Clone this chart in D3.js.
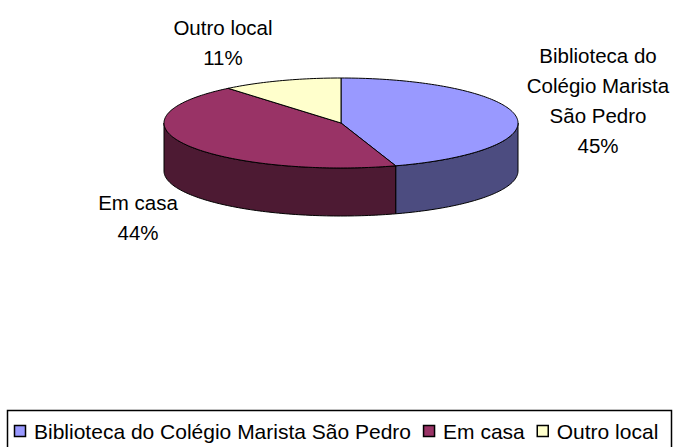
<!DOCTYPE html>
<html>
<head>
<meta charset="utf-8">
<script src="https://cdn.jsdelivr.net/npm/d3@7"></script>
<style>
  body { margin: 0; background: #fff; }
  text { font-family: Arial, "Liberation Sans", sans-serif; fill: #000; }
</style>
</head>
<body>
<div id="chart"></div>
<script>
// data
const categories = ["Biblioteca do Colégio Marista São Pedro", "Em casa", "Outro local"];
const values = [45, 44, 11];
const labelLines = [["Biblioteca do", "Colégio Marista", "São Pedro"], ["Em casa"], ["Outro local"]];
const topColors = ["#9999FF", "#993366", "#FFFFCC"];
const sideColors = ["#4C4C80", "#4D1A33", "#80805F"];

const width = 675, height = 447;
const cx = 341, cy = 123, rx = 177, ry = 45, depth = 48;

const svg = d3.select("#chart").append("svg")
    .attr("width", width)
    .attr("height", height);

const pie = d3.pie().sort(null).value(d => d)(values);

// angle measured clockwise from 12 o'clock, projected on a flat ellipse
function pt(a, dy = 0) {
    return [cx + rx * Math.sin(a), cy - ry * Math.cos(a) + dy];
}
function arcPts(a0, a1, dy = 0) {
    const n = Math.max(2, Math.ceil(Math.abs(a1 - a0) / 0.02));
    return d3.range(n + 1).map(i => pt(a0 + (a1 - a0) * i / n, dy));
}
const line = d3.line();

// side walls (front half only)
pie.forEach((d, i) => {
    const a0 = Math.max(d.startAngle, Math.PI / 2);
    const a1 = Math.min(d.endAngle, Math.PI * 1.5);
    if (a1 <= a0) return;
    const pts = arcPts(a0, a1).concat(arcPts(a1, a0, depth));
    svg.append("path")
        .attr("d", line(pts) + "Z")
        .attr("fill", sideColors[i])
        .attr("stroke", "#000")
        .attr("stroke-width", 1)
        .attr("stroke-linejoin", "round");
});

// top faces
pie.forEach((d, i) => {
    const pts = [[cx, cy]].concat(arcPts(d.startAngle, d.endAngle));
    svg.append("path")
        .attr("d", line(pts) + "Z")
        .attr("fill", topColors[i])
        .attr("stroke", "#000")
        .attr("stroke-width", 1)
        .attr("stroke-linejoin", "round");
});

// data labels (baseline of first line)
const labelPos = [[598, 63], [138, 210], [223, 35]];
const lineH = 30;
pie.forEach((d, i) => {
    const lines = labelLines[i].concat([Math.round(d.value / d3.sum(values) * 100) + "%"]);
    const t = svg.append("text")
        .attr("text-anchor", "middle")
        .attr("font-size", 20.5);
    lines.forEach((s, j) => {
        t.append("tspan")
            .attr("x", labelPos[i][0])
            .attr("y", labelPos[i][1] + j * lineH)
            .text(s);
    });
});

// legend
const legend = svg.append("g");
legend.append("rect")
    .attr("x", 7.5).attr("y", 410.5)
    .attr("width", 664).attr("height", 50)
    .attr("fill", "#fff")
    .attr("stroke", "#000")
    .attr("stroke-width", 1.5);

let x = 14;
categories.forEach((c, i) => {
    legend.append("rect")
        .attr("x", x + 0.5).attr("y", 425.5)
        .attr("width", 11).attr("height", 11)
        .attr("fill", topColors[i])
        .attr("stroke", "#000")
        .attr("stroke-width", 1.5);
    const t = legend.append("text")
        .attr("x", x + 20)
        .attr("y", 439)
        .attr("font-size", 21)
        .text(c);
    x += 20 + t.node().getComputedTextLength() + 12;
});
</script>
</body>
</html>
